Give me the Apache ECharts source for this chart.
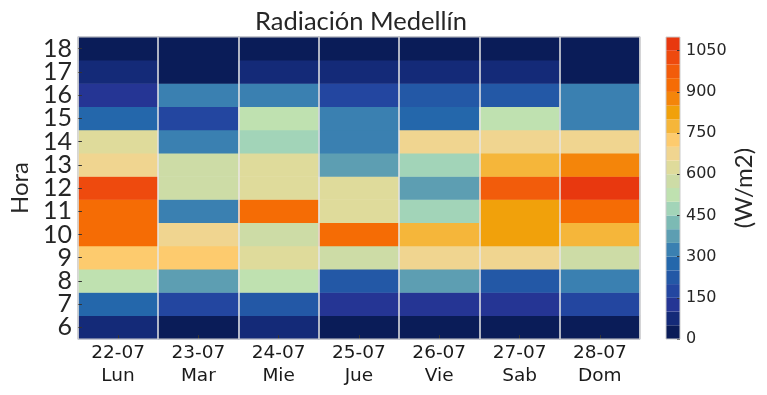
<!DOCTYPE html>
<html>
<head>
<meta charset="utf-8">
<script src="https://cdn.jsdelivr.net/npm/echarts@6/dist/echarts.min.js"></script>
<style>html,body{margin:0;padding:0;background:#fff}#c{width:767px;height:395px}</style>
</head>
<body>
<div id="c"></div>
<script>
// Categories
const days = ['22-07\nLun', '23-07\nMar', '24-07\nMie', '25-07\nJue', '26-07\nVie', '27-07\nSab', '28-07\nDom'];
const hours = ['6', '7', '8', '9', '10', '11', '12', '13', '14', '15', '16', '17', '18'];
// Radiation (W/m2) per day, hours 6..18
const lun = [75, 275, 525, 725, 925, 925, 1020, 675, 625, 275, 125, 75, 20];
const mar = [20, 175, 375, 725, 675, 325, 575, 575, 325, 175, 325, 15, 20];
const mie = [75, 225, 525, 625, 575, 925, 625, 625, 475, 525, 325, 75, 20];
const jue = [20, 125, 225, 575, 925, 625, 625, 375, 325, 325, 175, 75, 20];
const vie = [20, 125, 375, 675, 775, 475, 375, 475, 675, 275, 225, 75, 20];
const sab = [20, 125, 225, 675, 825, 825, 975, 775, 675, 525, 225, 75, 20];
const dom = [20, 175, 325, 575, 775, 925, 1075, 875, 675, 325, 325, 15, 20];
const dayValues = [lun, mar, mie, jue, vie, sab, dom];
// Colour scale bins (lower bounds) and colours
const binStep = 50;
const binLows = [0, 50, 100, 150, 200, 250, 300, 350, 400, 450, 500, 550, 600, 650, 700, 750, 800, 850, 900, 950, 1000, 1050];
const binColors = ['#0a1c58', '#142a78', '#253594', '#2346a0', '#2358a6', '#2467ab', '#3a80b1', '#5d9eb2', '#7cbab4', '#a2d4b8', '#bfe1b0', '#cddca6', '#dfdb9b', '#f0d590', '#fdcb6e', '#f5b63a', '#f1a10b', '#f4850a', '#f56c05', '#f25c0b', '#ee4a0e', '#e8380f'];
const cbMax = 1100;
const cbInterval = 150;

const heatData = [];
dayValues.forEach((arr, d) => arr.forEach((v, h) => heatData.push([d, h, v])));

const cbSeries = binLows.map((lo, i) => ({
  type: 'bar', stack: 'cb', xAxisIndex: 1, yAxisIndex: 1,
  barWidth: '100%', silent: true,
  itemStyle: { color: binColors[i] },
  data: [binStep]
}));

const chart = echarts.init(document.getElementById('c'), null, { renderer: 'canvas' });
chart.setOption({
  animation: false,
  title: {
    text: 'Radiación Medellín', left: 356, textAlign: 'center', top: 4,
    textStyle: { fontFamily: 'Lato', fontSize: 25.5, fontWeight: 'normal', color: '#262626' }
  },
  grid: [
    { left: 73, top: 37, width: 567, height: 302, show: true, z: 10, borderColor: '#cccccc', borderWidth: 1, backgroundColor: 'transparent' },
    { left: 666, top: 37, width: 14, height: 302, show: true, z: 10, borderColor: '#cccccc', borderWidth: 1, backgroundColor: 'transparent' }
  ],
  xAxis: [
    {
      type: 'category', data: days, gridIndex: 0, z: 5,
      axisLine: { show: false },
      axisTick: { show: true, inside: true, alignWithLabel: true, length: 4, lineStyle: { color: '#333' } },
      splitLine: { show: true, lineStyle: { color: '#e6e6e6', width: 1.5 } },
      axisLabel: { interval: 0, fontFamily: 'DejaVu Sans', fontSize: 18.5, lineHeight: 22.5, color: '#1a1a1a', margin: 3 }
    },
    {
      type: 'category', data: ['cb'], gridIndex: 1, show: false
    }
  ],
  yAxis: [
    {
      type: 'category', data: hours, gridIndex: 0, z: 5,
      name: 'Hora', nameLocation: 'middle', nameRotate: 90, nameGap: 38,
      nameTextStyle: { fontFamily: 'Lato', fontSize: 24, color: '#262626' },
      axisLine: { show: false },
      axisTick: { show: true, inside: true, alignWithLabel: true, interval: 0, length: 4, lineStyle: { color: '#333' } },
      splitLine: { show: false },
      axisLabel: { interval: 0, fontFamily: 'Lato', fontSize: 25, color: '#262626', margin: 6 }
    },
    {
      type: 'value', gridIndex: 1, position: 'right', min: 0, max: cbMax, interval: cbInterval, z: 5,
      name: '(W/m2)', nameLocation: 'middle', nameRotate: 90, nameGap: 52,
      nameTextStyle: { fontFamily: 'Lato', fontSize: 24, color: '#262626' },
      axisLine: { show: false },
      axisTick: { show: true, inside: true, length: 3, lineStyle: { color: '#333' } },
      splitLine: { show: false },
      axisLabel: { fontFamily: 'DejaVu Sans', fontSize: 16, color: '#262626', margin: 6, showMaxLabel: false, formatter: v => String(v) }
    }
  ],
  visualMap: {
    type: 'piecewise', show: false, dimension: 2, seriesIndex: 0,
    pieces: binLows.map((lo, i) => ({ gte: lo, lt: lo + binStep, color: binColors[i] }))
  },
  series: [
    { type: 'heatmap', xAxisIndex: 0, yAxisIndex: 0, data: heatData, itemStyle: { borderWidth: 0 }, emphasis: { disabled: true } }
  ].concat(cbSeries)
});
</script>
</body>
</html>
